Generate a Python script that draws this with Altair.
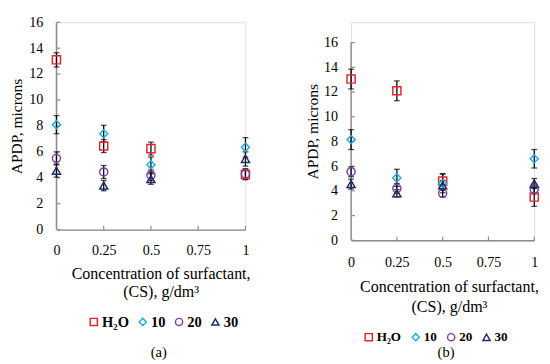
import altair as alt
import pandas as pd

# ---------------- data ----------------
series_names = ["H₂O", "10", "20", "30"]
series_colors = ["#e3242b", "#1fa9e1", "#7b3f9e", "#1f2c6c"]
series_shapes = ["square", "diamond", "circle", "triangle-up"]

cs = [0, 0.25, 0.5, 1]
x_tick_values = [0, 0.25, 0.5, 0.75, 1]
y_tick_values = [0, 2, 4, 6, 8, 10, 12, 14, 16]

# panel (a)
a_h2o = [13.1, 6.45, 6.25, 4.25]
a_h2o_err = [0.55, 0.5, 0.5, 0.4]
a_10 = [8.1, 7.4, 5.0, 6.35]
a_10_err = [0.7, 0.65, 0.6, 0.75]
a_20 = [5.5, 4.45, 4.2, 4.3]
a_20_err = [0.5, 0.5, 0.4, 0.4]
a_30 = [4.55, 3.4, 3.9, 5.45]
a_30_err = [0.5, 0.4, 0.4, 0.55]

# panel (b)
b_h2o = [13.05, 12.1, 4.8, 3.5]
b_h2o_err = [0.8, 0.8, 0.6, 0.75]
b_10 = [8.15, 5.05, 4.6, 6.6]
b_10_err = [0.8, 0.7, 0.75, 0.75]
b_20 = [5.55, 4.2, 3.8, 4.15]
b_20_err = [0.4, 0.4, 0.3, 0.4]
b_30 = [4.55, 3.8, 4.45, 4.6]
b_30_err = [0.4, 0.3, 0.4, 0.4]

FONT = "Liberation Serif"
AXIS_GREY = "#8c8c8c"


def long_df(vals, errs):
    rows = []
    for name, v, e in zip(series_names, vals, errs):
        for xi, yi, ei in zip(cs, v, e):
            rows.append({"cs": xi, "apdp": yi, "err": ei, "series": name})
    return pd.DataFrame(rows)


df_a = long_df([a_h2o, a_10, a_20, a_30], [a_h2o_err, a_10_err, a_20_err, a_30_err])
df_b = long_df([b_h2o, b_10, b_20, b_30], [b_h2o_err, b_10_err, b_20_err, b_30_err])


def panel(df, W, H, ymax, tag, cfg):
    xscale = alt.Scale(domain=[0, 1], nice=False, zero=False)
    yscale = alt.Scale(domain=[0, ymax], nice=False)

    x_axis = alt.Axis(
        values=x_tick_values, labelExpr="'' + datum.value", grid=False,
        ticks=False, tickSize=0, domainColor=AXIS_GREY, domainWidth=1.5,
        labelFont=FONT, labelFontSize=14.5, labelColor="black",
        labelPadding=cfg["xlabpad"], labelFlush=False,
        title=["Concentration of surfactant,", "(CS), g/dm³"],
        titleFont=FONT, titleFontSize=16.5, titleFontWeight="normal",
        titleColor="black", titleLineHeight=cfg["lh"],
        titleX=cfg["titleX"], titleY=cfg["titleY"], titleBaseline="top",
        titleAlign="center", titleAnchor="middle",
    )
    y_axis = alt.Axis(
        values=y_tick_values, grid=False, ticks=False, tickSize=0,
        domain=False,
        labelFont=FONT, labelFontSize=14.5, labelColor="black",
        labelPadding=14, title="APDP, microns", titleFont=FONT,
        titleFontSize=16, titleFontWeight="normal", titleColor="black",
        titlePadding=cfg["ytp"],
    )

    x = alt.X("cs:Q", scale=xscale, axis=x_axis)
    y = alt.Y("apdp:Q", scale=yscale, axis=y_axis)

    legend = alt.Legend(
        title=None, orient="none", direction="horizontal",
        legendX=cfg["legX"], legendY=cfg["legY"], padding=0,
        labelFont=FONT, labelFontSize=cfg["legfs"], labelFontWeight="bold",
        labelColor="black", symbolSize=55, symbolStrokeWidth=1.5,
        symbolFillColor="transparent", labelOffset=cfg["labOff"],
        columnPadding=cfg["colPad"],
    )

    base = alt.Chart(df).transform_calculate(
        lo="datum.apdp - datum.err", hi="datum.apdp + datum.err"
    )

    ytick_df = pd.DataFrame({"apdp": y_tick_values})
    xtick_df = pd.DataFrame({"cs": x_tick_values[1:]})
    yline_df = pd.DataFrame({"apdp": [y_tick_values[0]], "top": [y_tick_values[-1]]})

    yline = alt.Chart(yline_df).mark_rule(color=AXIS_GREY, strokeWidth=1.5).encode(
        y=y, y2="top:Q", x=alt.value(0),
    )
    ytick = alt.Chart(ytick_df).mark_rule(color=AXIS_GREY, strokeWidth=1.2).encode(
        y=y, x=alt.value(0), x2=alt.value(4),
    )
    xtick = alt.Chart(xtick_df).mark_rule(color=AXIS_GREY, strokeWidth=1.2).encode(
        x=x, y=alt.value(H), y2=alt.value(H - 4),
    )

    bar = base.mark_rule(color="black", strokeWidth=1.3).encode(
        x=x, y=alt.Y("lo:Q", scale=yscale, axis=y_axis), y2="hi:Q"
    )
    cap_hi = base.mark_tick(color="black", orient="horizontal", size=6, thickness=1.3).encode(
        x=x, y=alt.Y("hi:Q", scale=yscale, axis=y_axis)
    )
    cap_lo = base.mark_tick(color="black", orient="horizontal", size=6, thickness=1.3).encode(
        x=x, y=alt.Y("lo:Q", scale=yscale, axis=y_axis)
    )
    pts = alt.Chart(df).mark_point(filled=False, strokeWidth=1.5, size=70, opacity=1).encode(
        x=x, y=y,
        color=alt.Color("series:N", scale=alt.Scale(domain=series_names, range=series_colors), legend=legend),
        shape=alt.Shape("series:N", scale=alt.Scale(domain=series_names, range=series_shapes), legend=legend),
    )

    label = alt.Chart(pd.DataFrame({"t": [tag]})).mark_text(
        font=FONT, fontSize=15, color="black", align="center", baseline="middle"
    ).encode(text="t:N", x=alt.value(cfg["tagX"]), y=alt.value(cfg["tagY"]))

    return alt.layer(yline, ytick, xtick, bar, cap_hi, cap_lo, pts, label).properties(
        width=W, height=H
    )


cfg_a = dict(xlabpad=15, lh=19, titleX=107.5, titleY=37, ytp=5,
             legX=31, legY=301.5, legfs=15, labOff=1, colPad=6.5,
             tagX=105.5, tagY=340)
cfg_b = dict(xlabpad=16, lh=20, titleX=101, titleY=40, ytp=3.5,
             legX=11.5, legY=318, legfs=13.5, labOff=1.5, colPad=7.5,
             tagX=98, tagY=340)

pa = panel(df_a, 195, 214, 16, "(a)", cfg_a)
pb = panel(df_b, 189, 225, 16 * 225 / 204, "(b)", cfg_b)

chart = alt.hconcat(pa, pb, spacing=52).resolve_scale(
    color="independent", shape="independent"
).resolve_legend(color="independent", shape="independent").properties(
    padding=0
).configure_view(strokeWidth=0).configure(background="white")

chart.save("out.html", embed_options={"renderer": "svg", "actions": False})
